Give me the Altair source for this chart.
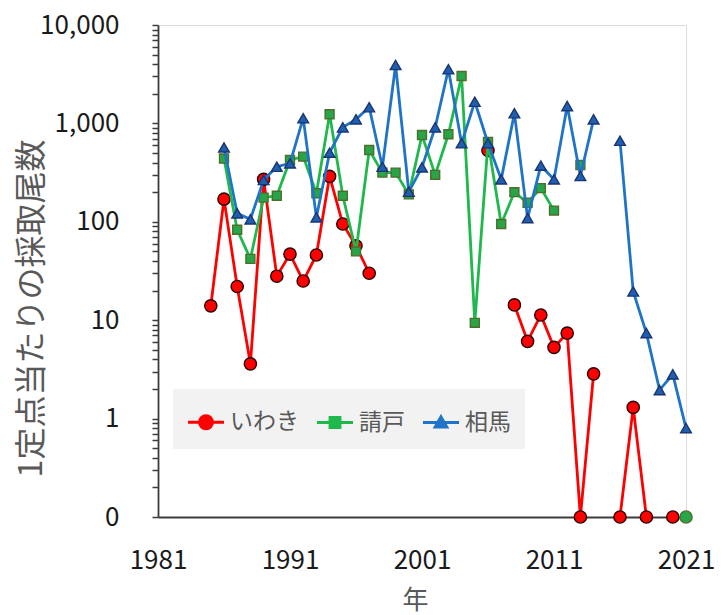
import altair as alt
import pandas as pd
import numpy as np

# ---- data ----
years = list(range(1985, 2022))
series_names = ["いわき", "請戸", "相馬"]

iwaki = [14, 170, 22, 3.6, 270, 28, 47, 25, 46, 290, 95, 57, 30,
         None, None, None, None, None, None, None, None,
         530, None, 14.3, 6.1, 11.3, 5.3, 7.4, 0, 2.85, None,
         0, 1.3, 0, None, 0, None]

ukedo = [None, 440, 83, 42, 176, 184, 425, 460, 195, 1240, 184, 50, 537,
         316, 316, 190, 762, 300, 775, 3030, 9.4, 650, 95, 200, 156,
         220, 130, None, 378, None, None, None, None, None, None, None, 0]

soma = [None, 570, 122, 106, 266, 363, 393, 1130, 111, 504, 913, 1100, 1460,
        363, 3920, 202, 358, 913, 3550, 628, 1660, 628, 270, 1270, 109,
        372, 270, 1500, 292, 1100, None, 667, 19.6, 7.4, 1.95, 2.82, 0.80]

x_ticks = [1981, 1991, 2001, 2011, 2021]
y_major = [0.1, 1, 10, 100, 1000, 10000]

line_colors = ["#ff0000", "#1fb84c", "#1f74c8"]
fill_colors = ["#ff0000", "#27a548", "#1f5fb0"]
edge_colors = ["#2a0000", "#4f6e2a", "#1b3572"]

# ---- build long table ----
rows = []
for name, vals in zip(series_names, [iwaki, ukedo, soma]):
    seg = 0
    for yr, v in zip(years, vals):
        if v is None:
            seg += 1
            continue
        rows.append({"year": yr, "series": name, "value": v,
                     "pv": max(v, 0.1), "seg": seg})
df = pd.DataFrame(rows)

y_ticks = []
for e in range(-1, 4):
    for m in range(1, 10):
        y_ticks.append(round(m * 10 ** e, 6))
y_ticks.append(10000)

FONT = "Noto Sans CJK JP"

x_enc = alt.X("year:Q",
              scale=alt.Scale(domain=[1981, 2021], nice=False, zero=False),
              axis=alt.Axis(values=x_ticks, format="d", ticks=False, grid=False,
                            labelFontSize=26, labelColor="#1a1a1a", labelFont=FONT,
                            labelPadding=30, labelFlush=False,
                            domainColor="#3c3c3c", domainWidth=1.8,
                            title="年", titleFont=FONT, titleFontSize=26,
                            titleFontWeight="normal", titleColor="#595959",
                            titleX=257, titleY=83, titleBaseline="middle"))

y_enc = alt.Y("pv:Q",
              scale=alt.Scale(type="log", domain=[0.1, 10000], nice=False),
              axis=alt.Axis(values=y_ticks, grid=False, labelOverlap=False,
                            labelExpr="datum.value < 0.15 ? '0' : (indexof([1,10,100,1000,10000], datum.value) >= 0 ? format(datum.value, ',') : '')",
                            labelFontSize=26, labelColor="#1a1a1a", labelFont=FONT,
                            labelPadding=33, tickSize=6, tickWidth=1.5,
                            tickColor="#3c3c3c", domainColor="#3c3c3c", domainWidth=1.8,
                            title="1定点当たりの採取尾数", titleFont=FONT,
                            titleFontSize=32, titleFontWeight="normal",
                            titleColor="#595959", titleX=-127, titleY=283,
                            titleAlign="center", titleBaseline="middle"))

shapes = ["circle", "square", "triangle-up"]
sizes = [150, 80, 115]

layers = []
for i, name in enumerate(series_names):
    base = alt.Chart(df).transform_filter(alt.datum.series == name)
    line = base.mark_line(color=line_colors[i], strokeWidth=2.8).encode(
        x=x_enc, y=y_enc, detail="seg:N", order="year:Q")
    if name == "請戸":
        pts = base.mark_point(filled=True, opacity=1, fill=fill_colors[i],
                              stroke=edge_colors[i], strokeWidth=1.4).encode(
            x=x_enc, y=y_enc,
            shape=alt.condition("datum.year == 2021", alt.value("circle"), alt.value("square")),
            size=alt.condition("datum.year == 2021", alt.value(150), alt.value(sizes[i])))
    else:
        pts = base.mark_point(filled=True, opacity=1, fill=fill_colors[i],
                              stroke=edge_colors[i], strokeWidth=1.4,
                              shape=shapes[i], size=sizes[i]).encode(x=x_enc, y=y_enc)
    layers += [line, pts]

# legend carrier (no marks drawn, only legend)
leg_paths = [
    "M-1.03,0H1.03M-0.37,0A0.37,0.37,0,1,0,0.37,0A0.37,0.37,0,1,0,-0.37,0Z",
    "M-1.03,0H1.03M-0.28,-0.28H0.28V0.28H-0.28Z",
    "M-1.03,0H1.03M0,-0.32L0.33,0.26H-0.33Z",
]
leg = alt.Legend(title=None, orient="none", legendX=15, legendY=364,
                 direction="horizontal", fillColor="#f2f2f2", padding=14,
                 symbolSize=1225, symbolStrokeWidth=3, labelFontSize=23,
                 labelFont=FONT, labelColor="#595959", labelOffset=5,
                 columnPadding=11, symbolOpacity=1)
legend_layer = alt.Chart(df).transform_filter("datum.year < 0").mark_point(
    filled=True).encode(
    x=x_enc, y=y_enc,
    shape=alt.Shape("series:N", scale=alt.Scale(domain=series_names, range=leg_paths), legend=leg),
    fill=alt.Fill("series:N", scale=alt.Scale(domain=series_names, range=line_colors), legend=leg),
    stroke=alt.Stroke("series:N", scale=alt.Scale(domain=series_names, range=line_colors), legend=leg),
)
layers.append(legend_layer)

chart = alt.layer(*layers).properties(
    width=528, height=492,
    autosize=alt.AutoSizeParams(type="none"),
    padding={"left": 150, "top": 17, "right": 28, "bottom": 100},
).configure_view(stroke=None).configure(background="white")

chart.save("out.html", embed_options={"renderer": "svg", "actions": False})
